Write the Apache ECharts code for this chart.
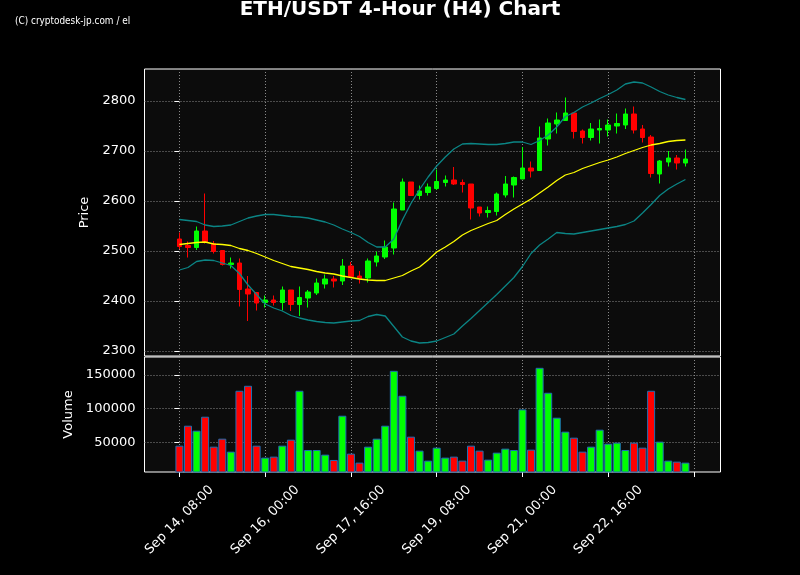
<!DOCTYPE html>
<html><head><meta charset="utf-8">
<script src="https://cdn.jsdelivr.net/npm/echarts@6/dist/echarts.min.js"></script>
<style>html,body{margin:0;padding:0;background:#000;}#c{width:800px;height:575px;}</style>
</head><body><div id="c"></div>
<script>
// ---- data ----
const openP = [2524,2511,2507,2540,2515,2501,2473,2476,2424,2417,
  2397,2402,2397,2422,2393,2406,2416,2434,2444,2440,
  2470,2450,2446,2478,2488,2506,2582,2638,2611,2617,
  2625,2637,2642,2637,2634,2588,2577,2579,2612,2632,
  2644,2666,2661,2724,2754,2761,2776,2740,2727,2742,
  2742,2750,2752,2774,2744,2728,2654,2678,2686,2676];
const closeP = [2509,2507,2540,2518,2499,2473,2476,2423,2414,2396,
  2402,2397,2422,2393,2407,2418,2436,2444,2440,2470,
  2449,2445,2480,2490,2508,2584,2638,2611,2620,2628,
  2639,2642,2634,2633,2586,2576,2581,2614,2634,2647,
  2666,2660,2726,2756,2762,2776,2739,2727,2744,2745,
  2752,2755,2774,2742,2727,2655,2680,2686,2676,2684];
const lowP = [2504,2487,2502,2515,2495,2471,2465,2389,2360,2381,
  2387,2391,2381,2380,2370,2387,2412,2425,2427,2432,
  2449,2435,2437,2469,2484,2493,2582,2611,2603,2611,
  2622,2629,2632,2617,2563,2569,2567,2571,2607,2607,
  2644,2647,2661,2711,2735,2761,2725,2715,2721,2715,
  2729,2735,2744,2735,2717,2647,2635,2669,2663,2669];
const highP = [2537,2519,2549,2615,2520,2501,2487,2485,2450,2417,
  2411,2411,2429,2422,2429,2422,2445,2453,2450,2484,
  2478,2460,2485,2499,2521,2597,2645,2638,2631,2635,
  2663,2651,2668,2643,2634,2588,2589,2617,2650,2649,
  2708,2679,2749,2765,2777,2807,2776,2743,2756,2763,
  2763,2775,2785,2789,2752,2732,2682,2700,2692,2703];
const volume = [45060,74690,67290,88030,43580,55430,36180,126550,133950,45060,
  27290,28770,45060,53950,126550,38640,38640,31730,23830,89510,
  33210,19880,43580,55430,74690,156170,119140,58400,37660,22840,
  42100,27290,28770,22840,45060,37660,24330,34700,40620,38640,
  98890,39140,160620,123590,86550,65810,56920,36180,43580,68770,
  48030,49510,38640,49510,42100,126550,50990,22840,21360,19880];
const sma = [2513,2515,2517,2518,2514,2513,2511,2505,2501,2495,
  2488,2481,2475,2469,2466,2463,2459,2456,2454,2450,
  2447,2444,2442,2441,2441,2446,2451,2460,2468,2482,
  2498,2508,2519,2532,2541,2548,2555,2561,2573,2584,
  2594,2604,2616,2628,2641,2652,2657,2665,2671,2677,
  2682,2688,2695,2701,2707,2712,2715,2719,2721,2722];
const bbUpper = [2563,2561,2559,2552,2549,2550,2552,2559,2566,2570,
  2573,2573,2571,2569,2568,2566,2562,2558,2552,2544,
  2537,2529,2517,2508,2508,2524,2562,2595,2623,2648,
  2670,2688,2704,2714,2715,2714,2713,2713,2715,2718,
  2718,2713,2721,2732,2748,2769,2777,2788,2796,2805,
  2813,2822,2834,2838,2836,2828,2819,2812,2807,2803];
const bbLower = [2462,2467,2479,2482,2481,2476,2471,2455,2432,2413,
  2394,2386,2380,2371,2366,2362,2359,2357,2356,2358,
  2360,2361,2369,2373,2370,2349,2328,2320,2316,2317,
  2320,2327,2334,2350,2365,2381,2397,2413,2430,2447,
  2469,2495,2512,2524,2537,2535,2534,2537,2540,2543,
  2546,2549,2553,2560,2576,2593,2611,2624,2634,2643];
const tickIndex = [0,10,20,30,40,50,60];
const tickLabels = ['Sep 14, 08:00','Sep 16, 00:00','Sep 17, 16:00','Sep 19, 08:00','Sep 21, 00:00','Sep 22, 16:00'];
const priceTicks = [2300,2400,2500,2600,2700,2800];
const volumeTicks = [50000,100000,150000];

// ---- styles ----
const UP = '#00ff00', DOWN = '#ff0000';
const FONT = 'DejaVu Sans';
const GRIDLINE = {show:true, lineStyle:{color:'#8a8a8a', type:[1,2], width:1}};

const candleData = openP.map((o,i)=>[i,o,closeP[i],lowP[i],highP[i]]);
const volData = volume.map((v,i)=>({value:[i,v], itemStyle:{color: closeP[i]>=openP[i]?UP:DOWN}}));
const line = arr => arr.map((v,i)=>[i,v]);

function xAxisCfg(gi, showLabels){
  return {type:'value', gridIndex:gi, min:-4.07, max:63.09,
    axisLine:{show:false},
    axisTick:{show:showLabels, customValues:tickIndex, length:5, lineStyle:{color:'#fff'}},
    axisLabel:{show:showLabels, customValues:tickIndex.slice(0,tickLabels.length), rotate:45,
      align:'center', verticalAlign:'middle', margin:48, color:'#fff', fontFamily:FONT, fontSize:13,
      formatter:v=>tickLabels[tickIndex.indexOf(v)]||''},
    splitLine:GRIDLINE};
}
function yAxisCfg(gi, min, max, ticks, name, gap){
  return {type:'value', gridIndex:gi, min, max, scale:true,
    name, nameLocation:'middle', nameGap:gap, nameRotate:90,
    nameTextStyle:{color:'#fff', fontFamily:FONT, fontSize:13},
    axisLine:{show:false},
    axisTick:{show:true, customValues:ticks, length:5, lineStyle:{color:'#fff'}},
    axisLabel:{customValues:ticks, color:'#fff', fontFamily:FONT, fontSize:13, margin:9,
      formatter:v=>String(v)},
    splitLine:GRIDLINE};
}
const vMin = 0.3*Math.min(...volume), vMax = 1.1*Math.max(...volume);

const chart = echarts.init(document.getElementById('c'), null, {renderer:'canvas'});
chart.setOption({
  backgroundColor:'#000',
  animation:false,
  title:[
    {text:'ETH/USDT 4-Hour (H4) Chart', left:'center', top:0, padding:0,
     textStyle:{color:'#fff', fontSize:20, fontWeight:'bold', fontFamily:FONT}}
  ],
  graphic:[
    {type:'text', x:15, y:16, scaleX:0.9, silent:true,
     style:{text:'(C) cryptodesk-jp.com / el', fill:'#fff', font:'11px "Liberation Sans Narrow", "DejaVu Sans Condensed", sans-serif'}}
  ],
  grid:[
    {left:144.5, right:79.5, top:69, height:287, show:true, backgroundColor:'#0c0c0c', borderColor:'#fff', borderWidth:1, outerBoundsMode:'none'},
    {left:144.5, right:79.5, top:357, height:115, show:true, backgroundColor:'#0c0c0c', borderColor:'#fff', borderWidth:1, outerBoundsMode:'none'}
  ],
  xAxis:[xAxisCfg(0,false), xAxisCfg(1,true)],
  yAxis:[yAxisCfg(0,2290,2864,priceTicks,'Price',46), yAxisCfg(1,vMin,vMax,volumeTicks,'Volume',66)],
  series:[
    {type:'candlestick', xAxisIndex:0, yAxisIndex:0, data:candleData, encode:{x:0, y:[1,2,3,4]},
     barWidth:5, z:2,
     itemStyle:{color:UP, color0:DOWN, borderColor:UP, borderColor0:DOWN, borderWidth:1}},
    {type:'line', xAxisIndex:0, yAxisIndex:0, data:line(sma), showSymbol:false, z:3,
     lineStyle:{color:'#ffff00', width:1.3}},
    {type:'line', xAxisIndex:0, yAxisIndex:0, data:line(bbUpper), showSymbol:false, z:3,
     lineStyle:{color:'#0b8585', width:1.3}},
    {type:'line', xAxisIndex:0, yAxisIndex:0, data:line(bbLower), showSymbol:false, z:3,
     lineStyle:{color:'#0b8585', width:1.3}},
    {type:'bar', xAxisIndex:1, yAxisIndex:1, data:volData, barWidth:8, z:2,
     itemStyle:{borderColor:'#1f6fb4', borderWidth:1}}
  ]
});
</script></body></html>
